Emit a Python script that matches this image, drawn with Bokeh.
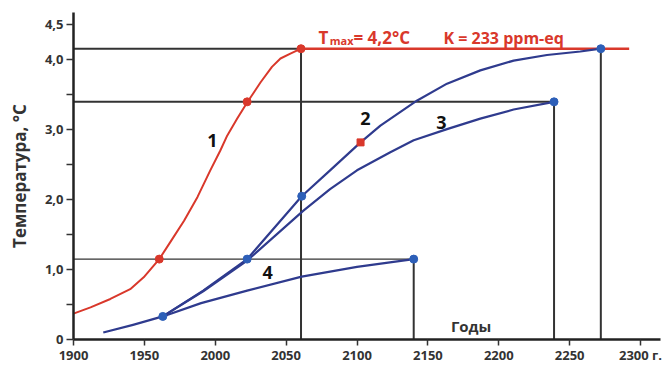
from bokeh.plotting import figure
from bokeh.models import Range1d, FixedTicker, Label
from bokeh.embed import file_html
from bokeh.resources import INLINE

# ---- data ----
years_1 = [1900, 1912, 1926, 1940, 1949.5, 1960.5, 1968.5, 1978, 1987.5, 1996.5, 2003.5, 2008.5,
           2015.5, 2022.5, 2032, 2040, 2046, 2053, 2060.5]
temp_1 = [0.37, 0.46, 0.58, 0.72, 0.89, 1.15, 1.40, 1.70, 2.04, 2.42, 2.70, 2.92,
          3.16, 3.39, 3.68, 3.90, 4.02, 4.09, 4.16]

years_2 = [1963, 1991.5, 2022.5, 2061, 2081, 2102.5, 2116.5, 2142.5, 2163.5, 2187, 2210.5, 2234, 2257.5, 2272]
temp_2 = [0.33, 0.70, 1.15, 2.05, 2.42, 2.82, 3.06, 3.42, 3.66, 3.85, 3.99, 4.07, 4.12, 4.16]

years_3 = [1963, 1991.5, 2022.5, 2062, 2081, 2100, 2123.5, 2140, 2163.5, 2187, 2210.5, 2239]
temp_3 = [0.33, 0.69, 1.13, 1.84, 2.15, 2.42, 2.68, 2.85, 3.01, 3.16, 3.29, 3.40]

years_4 = [1921, 1942, 1963, 1990, 2022.5, 2061, 2100, 2140]
temp_4 = [0.10, 0.21, 0.33, 0.52, 0.70, 0.90, 1.04, 1.15]

blue_dot_years = [1963, 2022.5, 2061, 2140, 2239, 2272]
blue_dot_temps = [0.33, 1.15, 2.05, 1.15, 3.40, 4.16]
red_dot_years = [1960.5, 2022.5, 2060.5]
red_dot_temps = [1.15, 3.40, 4.16]
red_square_year = [2102.5]
red_square_temp = [2.82]

t_max = 4.16
t_max_line_end = 2292

x_ticks = [1900, 1950, 2000, 2050, 2100, 2150, 2200, 2250, 2300]
x_tick_labels = ["1900", "1950", "2000", "2050", "2100", "2150", "2200", "2250", "2300 г."]
y_ticks = [0, 0.5, 1.0, 1.5, 2.0, 2.5, 3.0, 3.5, 4.0, 4.5]
y_tick_labels = ["0", "", "1,0", "", "2,0", "", "3,0", "", "4,0", "4,5"]

RED = "#d9382b"
NAVY = "#2f3b8e"
DOT_BLUE = "#2d5fb8"
DARK = "#333333"
FONT = "Open Sans"

p = figure(width=671, height=367, output_backend="svg", toolbar_location=None,
           x_range=Range1d(1900, 2314.1), y_range=Range1d(0, 4.678),
           min_border_left=73, min_border_right=11, min_border_top=12, min_border_bottom=28)
p.outline_line_color = None
p.grid.visible = False
p.background_fill_color = "white"
p.border_fill_color = "white"

# axes
p.xaxis.ticker = FixedTicker(ticks=x_ticks)
p.xaxis.major_label_overrides = {t: l for t, l in zip(x_ticks, x_tick_labels)}
p.yaxis.ticker = FixedTicker(ticks=y_ticks)
p.yaxis.major_label_overrides = {t: l for t, l in zip(y_ticks, y_tick_labels)}
for ax in (p.xaxis, p.yaxis):
    ax.axis_line_width = 2.5
    ax.axis_line_color = "#222222"
    ax.major_tick_line_color = DARK
    ax.major_tick_line_width = 1.5
    ax.major_tick_in = 0
    ax.major_tick_out = 7
    ax.minor_tick_line_color = None
    ax.major_label_text_font = FONT
    ax.major_label_text_font_style = "bold"
    ax.major_label_text_font_size = "13px"
    ax.major_label_text_color = DARK
p.xaxis.major_label_standoff = 0
p.xaxis.major_tick_out = 6
p.yaxis.major_label_standoff = 3
p.yaxis.axis_label = "Температура, °C"
p.yaxis.axis_label_text_font = FONT
p.yaxis.axis_label_text_font_style = "bold"
p.yaxis.axis_label_text_font_size = "17px"
p.yaxis.axis_label_text_color = DARK
p.yaxis.axis_label_standoff = 11

# guide lines
gx0 = [years_1[0], years_1[0], years_1[0]]
gy0 = [t_max, temp_3[-1], temp_4[-1]]
gx1 = [years_1[-1], years_3[-1], years_4[-1]]
gy1 = [t_max, temp_3[-1], temp_4[-1]]
p.segment(x0=gx0[:2], y0=gy0[:2], x1=gx1[:2], y1=gy1[:2], line_color=DARK, line_width=2)
p.segment(x0=gx0[2:], y0=gy0[2:], x1=gx1[2:], y1=gy1[2:], line_color=DARK, line_width=1.2)
vx = [years_1[-1], years_3[-1], years_2[-1], years_4[-1]]
vy = [temp_1[-1], temp_3[-1], temp_2[-1], temp_4[-1]]
p.segment(x0=vx, y0=[0] * len(vx), x1=vx, y1=vy, line_color=DARK, line_width=2)

# T max line
p.line([years_1[-1], t_max_line_end], [t_max, t_max], line_color=RED, line_width=2.5)

# curves
p.line(years_1, temp_1, line_color=RED, line_width=2, line_join="round")
p.line(years_2, temp_2, line_color=NAVY, line_width=2.2, line_join="round")
p.line(years_3, temp_3, line_color=NAVY, line_width=2.2, line_join="round")
p.line(years_4, temp_4, line_color=NAVY, line_width=2.2, line_join="round")

# dots
p.scatter(blue_dot_years, blue_dot_temps, size=8, color=DOT_BLUE)
p.scatter(red_dot_years, red_dot_temps, size=8, color=RED)
p.scatter(red_square_year, red_square_temp, marker="square", size=7, color=RED)

# curve numbers
for txt, x, y in [("1", 1998, 2.84), ("2", 2106, 3.16), ("3", 2159.6, 3.11), ("4", 2037, 0.96)]:
    p.add_layout(Label(x=x, y=y, text=txt, text_font=FONT, text_font_style="bold",
                       text_font_size="18px", text_color="#111111",
                       text_align="center", text_baseline="middle"))

# x axis title
p.add_layout(Label(x=2180.5, y=0.19, text="Годы", text_font=FONT, text_font_style="bold",
                   text_font_size="15px", text_color=DARK,
                   text_align="center", text_baseline="middle"))

# header texts
p.add_layout(Label(x=2072.8, y=4.32, text="T", text_font=FONT, text_font_style="bold",
                   text_font_size="17px", text_color=RED, text_baseline="alphabetic"))
p.add_layout(Label(x=2080.8, y=4.275, text="max", text_font=FONT, text_font_style="bold",
                   text_font_size="11px", text_color=RED, text_baseline="alphabetic"))
p.add_layout(Label(x=2097.5, y=4.32, text="= 4,2°C", text_font=FONT, text_font_style="bold",
                   text_font_size="17px", text_color=RED, text_baseline="alphabetic"))
p.add_layout(Label(x=2161, y=4.32, text="K = 233 ppm-eq", text_font=FONT, text_font_style="bold",
                   text_font_size="16px", text_color=RED, text_baseline="alphabetic"))

open("out.html", "w").write(file_html(p, INLINE))
